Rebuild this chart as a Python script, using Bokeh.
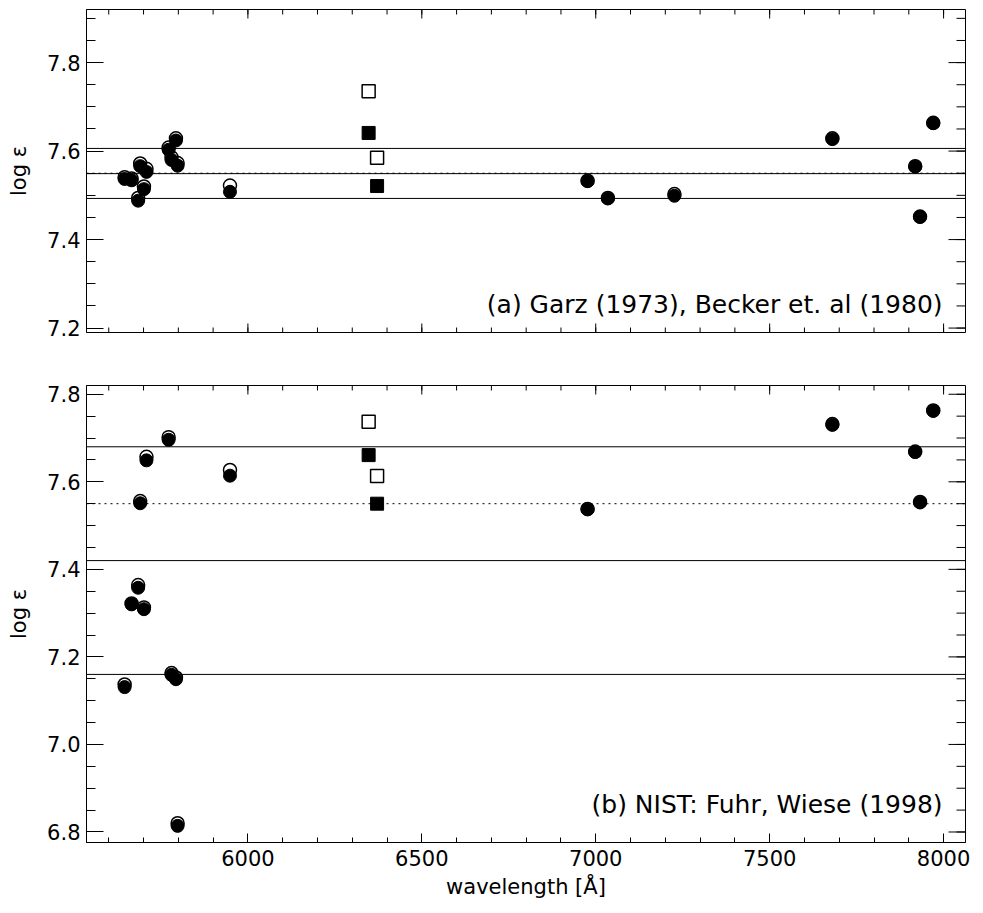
import math
from bokeh.plotting import figure
from bokeh.layouts import column
from bokeh.models import Range1d, LinearAxis, FixedTicker, Span, Label, NumeralTickFormatter
from bokeh.embed import file_html
from bokeh.resources import INLINE

FONT = "DejaVu Sans"

# Si I lines [Å] and abundances from Garz (1973) / Becker et al. (1980) gf-values
si1_wave = [5645.6, 5665.6, 5684.5, 5690.4, 5701.1, 5708.4, 5772.1, 5780.4, 5793.1,
            5797.9, 5948.5, 6976.5, 7034.9, 7226.2, 7680.3, 7918.4, 7932.3, 7970.3]
garz_open = [7.541, 7.538, 7.494, 7.572, 7.520, 7.560, 7.608, 7.586, 7.629,
             7.573, 7.522, 7.533, 7.494, 7.503, 7.629, 7.566, 7.452, 7.664]
garz_fill = [7.537, 7.534, 7.488, 7.566, 7.514, 7.553, 7.603, 7.580, 7.624,
             7.567, 7.508, 7.532, 7.493, 7.499, 7.627, 7.565, 7.451, 7.663]

# Si II lines
si2_wave = [6347.1, 6371.4]
garz_si2_open = [7.735, 7.585]
garz_si2_fill = [7.641, 7.521]

# NIST (Fuhr & Wiese 1998) gf-values
nist_wave = [5645.6, 5665.6, 5684.5, 5690.4, 5701.1, 5708.4, 5772.1, 5780.4, 5793.1,
             5797.9, 5948.5, 6976.5, 7680.3, 7918.4, 7932.3, 7970.3]
nist_open = [7.137, 7.322, 7.364, 7.556, 7.313, 7.657, 7.702, 7.163, 7.153,
             6.820, 7.627, 7.538, 7.732, 7.669, 7.554, 7.763]
nist_fill = [7.131, 7.320, 7.358, 7.551, 7.309, 7.649, 7.696, 7.159, 7.149,
             6.814, 7.614, 7.537, 7.730, 7.668, 7.553, 7.762]
nist_si2_open = [7.737, 7.613]
nist_si2_fill = [7.661, 7.550]

# reference abundance, mean and +/- 1 sigma of each set
solar_ref = 7.55
garz_lines = [7.606, 7.549, 7.493]
nist_lines = [7.680, 7.420, 7.160]

x_major = [6000, 6500, 7000, 7500, 8000]
x_minor = list(range(5600, 8100, 100))
X0, X1 = 5536, 8063

# tick lengths in pixels (inward)
XT_MAJ, XT_MIN = 9, 5
YT_MAJ, YT_MIN = 17, 9


def style_axis(ax, tick_in, minor_in, standoff):
    ax.axis_line_color = "black"
    ax.major_tick_line_color = "black"
    ax.minor_tick_line_color = "black"
    ax.major_tick_in = tick_in
    ax.major_tick_out = 0
    ax.minor_tick_in = minor_in
    ax.minor_tick_out = 0
    ax.major_label_text_font = FONT
    ax.major_label_text_color = "black"
    ax.major_label_text_font_size = "21px"
    ax.major_label_standoff = standoff
    ax.axis_label_text_font = FONT
    ax.axis_label_text_font_style = "normal"
    ax.axis_label_text_color = "black"
    ax.axis_label_text_font_size = "21px"


def edge_ticks(p, positions, length, edge, where):
    # inward tick marks on an unlabelled frame edge (markers are clipped at the frame)
    if where == "x":
        p.scatter(positions, [edge] * len(positions), marker="dash", angle=math.pi / 2,
                  size=2 * length, line_color="black", line_width=1)
    else:
        p.scatter([edge] * len(positions), positions, marker="dash", angle=0,
                  size=2 * length, line_color="black", line_width=1)


def panel(height, b_top, b_bottom, yr, y_major, y_minor, x_labels):
    p = figure(width=983, height=height,
               x_range=Range1d(X0, X1), y_range=Range1d(*yr),
               output_backend="svg", toolbar_location=None,
               min_border_left=86, min_border_right=18,
               min_border_top=b_top, min_border_bottom=b_bottom,
               x_axis_location=None, y_axis_location=None)
    p.xgrid.visible = False
    p.ygrid.visible = False
    p.outline_line_color = "black"
    p.outline_line_width = 1
    p.background_fill_color = "white"
    p.border_fill_color = "white"

    ly = LinearAxis(ticker=FixedTicker(ticks=y_major, minor_ticks=y_minor),
                    axis_label="log ε", axis_label_standoff=13,
                    formatter=NumeralTickFormatter(format="0.0"))
    style_axis(ly, YT_MAJ, YT_MIN, 6)
    p.add_layout(ly, "left")

    if x_labels:
        bx = LinearAxis(ticker=FixedTicker(ticks=x_major, minor_ticks=x_minor),
                        axis_label="wavelength [Å]", axis_label_standoff=6)
        style_axis(bx, XT_MAJ, XT_MIN, 7)
        p.add_layout(bx, "below")
    else:
        edge_ticks(p, x_major, XT_MAJ, yr[0], "x")
        edge_ticks(p, x_minor, XT_MIN, yr[0], "x")

    edge_ticks(p, x_major, XT_MAJ, yr[1], "x")
    edge_ticks(p, x_minor, XT_MIN, yr[1], "x")
    edge_ticks(p, y_major, YT_MAJ, X1, "y")
    edge_ticks(p, y_minor, YT_MIN, X1, "y")
    return p


def draw(p, w1, o1, f1, o2, f2, lines):
    for v in lines:
        p.add_layout(Span(location=v, dimension="width", line_color="black", line_width=1))
    p.add_layout(Span(location=solar_ref, dimension="width", line_color="black",
                      line_width=1, line_dash="2 4"))
    p.scatter(w1, o1, marker="circle", size=13, fill_color=None,
              line_color="black", line_width=1.5)
    p.scatter(si2_wave, o2, marker="square", size=13, fill_color=None,
              line_color="black", line_width=1.5)
    p.scatter(w1, f1, marker="circle", size=13, fill_color="black",
              line_color="black", line_width=1)
    p.scatter(si2_wave, f2, marker="square", size=13, fill_color="black",
              line_color="black", line_width=1)


y1_major = [7.2, 7.4, 7.6, 7.8]
y1_minor = [round(7.2 + 0.05 * i, 2) for i in range(15)]
p1 = panel(360, 9, 28, (7.19, 7.92), y1_major, y1_minor, False)
draw(p1, si1_wave, garz_open, garz_fill, garz_si2_open, garz_si2_fill, garz_lines)
p1.add_layout(Label(x=7997, y=7.254, text="(a) Garz (1973), Becker et. al (1980)",
                    text_align="right", text_baseline="alphabetic",
                    text_font=FONT, text_font_size="25px", text_color="black"))

y2_major = [6.8, 7.0, 7.2, 7.4, 7.6, 7.8]
y2_minor = [round(6.8 + 0.05 * i, 2) for i in range(21)]
p2 = panel(553, 25, 71, (6.776, 7.82), y2_major, y2_minor, True)
draw(p2, nist_wave, nist_open, nist_fill, nist_si2_open, nist_si2_fill, nist_lines)
p2.add_layout(Label(x=7997, y=6.862, text="(b) NIST: Fuhr, Wiese (1998)",
                    text_align="right", text_baseline="alphabetic",
                    text_font=FONT, text_font_size="25px", text_color="black"))

layout = column(p1, p2, spacing=0)
open("out.html", "w").write(file_html(layout, INLINE))
